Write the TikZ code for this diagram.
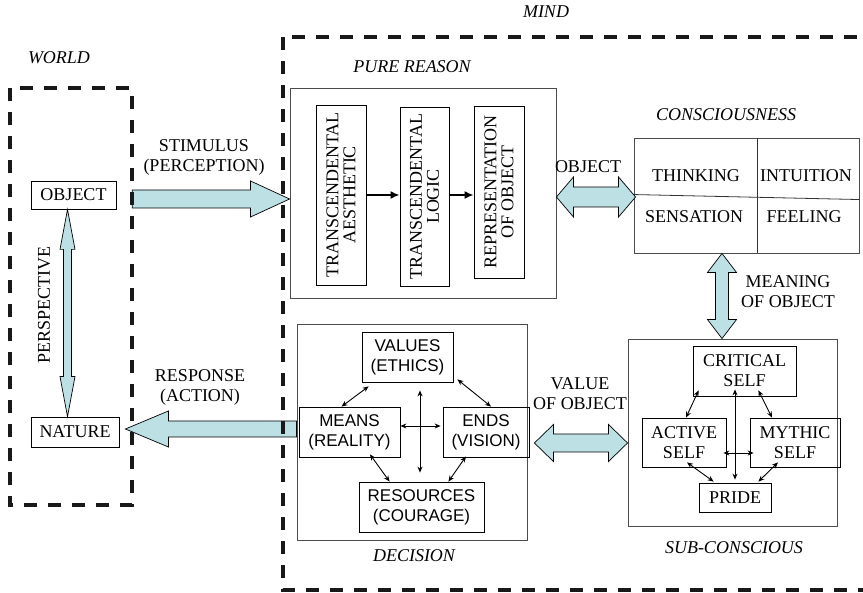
\documentclass[tikz,border=0pt]{standalone}
\usepackage{fontspec}
\setmainfont{Liberation Serif}
\setsansfont{Liberation Sans}
\usetikzlibrary{calc,arrows.meta}
\definecolor{fatblue}{RGB}{188,224,228}
\newcommand\szr{\fontsize{18}{20}\selectfont}
\newcommand\szrot{\fontsize{18}{17}\selectfont}
\newcommand\szs{\fontsize{17}{20}\selectfont\sffamily}
\newcommand\fatsingle[5]{%
 \coordinate (fsH) at ($(#2)!#5!(#1)$);
 \draw[fatarrow] ($(#1)!#3!90:(#2)$) -- ($(fsH)!#3!-90:(#1)$) -- ($(fsH)!#4!-90:(#1)$) -- (#2) -- ($(fsH)!#4!90:(#1)$) -- ($(fsH)!#3!90:(#1)$) -- ($(#1)!#3!-90:(#2)$) -- cycle;
}
\newcommand\fatdouble[5]{%
 \coordinate (fdP) at ($(#1)!#5!(#2)$);
 \coordinate (fdQ) at ($(#2)!#5!(#1)$);
 \draw[fatarrow] (#1) -- ($(fdP)!#4!90:(#2)$) -- ($(fdP)!#3!90:(#2)$) -- ($(fdQ)!#3!-90:(#1)$) -- ($(fdQ)!#4!-90:(#1)$) -- (#2) -- ($(fdQ)!#4!90:(#1)$) -- ($(fdQ)!#3!90:(#1)$) -- ($(fdP)!#3!-90:(#2)$) -- ($(fdP)!#4!-90:(#2)$) -- cycle;
}
\tikzset{
 dbox/.style={draw=black!90, line width=3.5pt, dash pattern=on 13pt off 11pt},
 frame/.style={draw=black!70, line width=0.9pt, inner sep=0pt},
 box/.style={draw=black, line width=0.8pt, inner sep=0pt, align=center, font=\szr},
 sbox/.style={draw=black, line width=0.8pt, inner sep=0pt, align=center, font=\szs},
 rbox/.style={draw=black, line width=0.8pt, inner sep=0pt, align=center, font=\szrot, rotate=90},
 lab/.style={inner sep=0pt, align=center, font=\szr},
 ilab/.style={inner sep=0pt, align=center, font=\szr\itshape},
 fatarrow/.style={draw=black, fill=fatblue, line width=0.7pt, line join=miter},
 thin2/.style={line width=0.9pt, {Stealth[length=6pt,width=5pt]}-{Stealth[length=6pt,width=5pt]}},
 thick1/.style={line width=2.2pt, -{Latex[length=9pt,width=8pt]}}
}
\begin{document}
\begin{tikzpicture}[x=1pt,y=-1pt]
\useasboundingbox[fill=white] (0,0) rectangle (863,593);

% main frames
\node[minimum width=122, minimum height=417, inner sep=0pt] (world) at (71,296.5) {};
\node[frame, minimum width=266, minimum height=210] (pure) at (423,193) {};
\node[frame, minimum width=225, minimum height=115] (consc) at (746.5,195.5) {};
\node[frame, minimum width=230, minimum height=216] (decision) at (412,432) {};
\node[frame, minimum width=209, minimum height=187] (subc) at (732.5,432.5) {};

% world
\node[box, minimum width=85, minimum height=28] (object) at (73.5,195) {OBJECT};
\node[box, minimum width=88, minimum height=30] (nature) at (75,432) {NATURE};

% pure reason
\node[rbox, minimum width=180, minimum height=50] (aesth) at (341,195) {TRANSCENDENTAL\\AESTHETIC};
\node[rbox, minimum width=179, minimum height=49] (logic) at (424.5,196.5) {TRANSCENDENTAL\\LOGIC};
\node[rbox, minimum width=172, minimum height=50] (repr) at (499,192) {REPRESENTATION\\OF OBJECT};
\draw[thick1] (aesth.south |- 0,195) -- (logic.north |- 0,195);
\draw[thick1] (logic.south |- 0,195) -- (repr.north |- 0,195);

% consciousness
\coordinate (cdl) at ($(consc.north west)+(0,57)$);
\coordinate (cdr) at ($(consc.north east)+(0,62)$);
\draw[line width=0.8pt, black!80] (cdl) -- (cdr);
\draw[line width=0.8pt, black!80] ($(consc.north west)+(124,0)$) -- ($(consc.south west)+(124,0)$);
\node[lab] (thinking) at (696,176) {THINKING};
\node[lab] (intuition) at (806,176) {INTUITION};
\node[lab] (sensation) at (694,217) {SENSATION};
\node[lab] (feeling) at (804,217) {FEELING};

% decision
\node[sbox, minimum width=91, minimum height=50] (values) at (407.5,357) {VALUES\\(ETHICS)};
\node[sbox, minimum width=101, minimum height=50] (means) at (349.5,432) {MEANS\\(REALITY)};
\node[sbox, minimum width=86, minimum height=50] (ends) at (486,432) {ENDS\\(VISION)};
\node[sbox, minimum width=125, minimum height=50] (resources) at (421.5,507) {RESOURCES\\(COURAGE)};
\draw[thin2] ($(values.south west)+(7,4)$) -- ($(means.north)+(-8,0)$);
\draw[thin2] ($(values.south east)+(4,-3)$) -- ($(ends.north)+(5,0)$);
\draw[thin2] ($(values.south)+(12.5,8)$) -- ($(resources.north)+(-1.5,-9)$);
\draw[thin2] ($(means.east)+(0,-6)$) -- ($(ends.west)+(-2,-6)$);
\draw[thin2] ($(means.south)+(20.5,-3)$) -- ($(resources.north west)+(31,0)$);
\draw[thin2] ($(ends.south)+(-20,-1)$) -- ($(resources.north east)+(-36,0)$);

% sub-conscious
\node[box, minimum width=103, minimum height=50] (critical) at (744.5,371) {CRITICAL\\SELF};
\node[box, minimum width=84, minimum height=49] (active) at (684,442.5) {ACTIVE\\SELF};
\node[box, minimum width=90, minimum height=49] (mythic) at (795,442.5) {MYTHIC\\SELF};
\node[box, minimum width=72, minimum height=29] (pride) at (735,497.5) {PRIDE};
\draw[thin2] ($(critical.south west)+(6,-6)$) -- ($(active.north)+(2,0)$);
\draw[thin2] ($(critical.south east)+(-38,-6)$) -- ($(mythic.north)+(-23,0)$);
\draw[thin2] ($(critical.south)+(-9.5,-7)$) -- ($(pride.north)+(0,-3)$);
\draw[thin2] ($(active.east)+(-3,10.5)$) -- ($(mythic.west)+(4,10.5)$);
\draw[thin2] ($(active.south)+(3,-5)$) -- ($(pride.north west)+(15,-1)$);
\draw[thin2] ($(mythic.south)+(-17,-5)$) -- ($(pride.north east)+(-13,-1)$);

% fat arrows
\coordinate (stA) at ($(world.east |- object)+(0,4)$);
\coordinate (stB) at (pure.west |- stA);
\fatsingle{stA}{stB}{9pt}{18pt}{39pt}
\coordinate (rsA) at ($(decision.west)+(0,-3)$);
\coordinate (rsB) at ($(nature.east)+(6,-3)$);
\fatsingle{rsA}{rsB}{8pt}{18pt}{43pt}
\coordinate (peA) at ($(object.south)+(-6,0)$);
\coordinate (peB) at ($(nature.north)+(-7.5,0)$);
\fatdouble{peA}{peB}{4pt}{7.5pt}{40pt}
\coordinate (obA) at ($(pure.east)+(0,4)$);
\coordinate (obB) at ($(consc.west)+(2,1.5)$);
\fatdouble{obA}{obB}{10pt}{20pt}{17pt}
\coordinate (meA) at ($(consc.south)+(-24.5,0)$);
\coordinate (meB) at (meA |- subc.north);
\fatdouble{meA}{meB}{6.5pt}{14.5pt}{19pt}
\coordinate (vaA) at ($(ends.east)+(5,11)$);
\coordinate (vaB) at (subc.west |- vaA);
\fatdouble{vaA}{vaB}{9pt}{18.5pt}{19pt}

% dashed frames
\draw[dbox] (world.north west) rectangle (world.south east);
\draw[dbox] (283,37) rectangle (905,590);

% labels
\node[ilab] (lmind) at (546,12) {MIND};
\node[ilab] (lworld) at (59,58) {WORLD};
\node[ilab] (lpure) at (412,67) {PURE REASON};
\node[ilab] (lconsc) at (726,115) {CONSCIOUSNESS};
\node[ilab] (ldec) at (414,556) {DECISION};
\node[ilab] (lsub) at (734,548) {SUB-CONSCIOUS};
\node[lab] (lstim) at (204,157) {STIMULUS\\(PERCEPTION)};
\node[lab] (lresp) at (200,387) {RESPONSE\\(ACTION)};
\node[lab] (lobj) at (588,167) {OBJECT};
\node[lab] (lmean) at (788,292) {MEANING\\OF OBJECT};
\node[lab] (lval) at (580,394) {VALUE\\OF OBJECT};
\node[lab, rotate=90] (lpersp) at (44,305) {PERSPECTIVE};
\end{tikzpicture}
\end{document}
